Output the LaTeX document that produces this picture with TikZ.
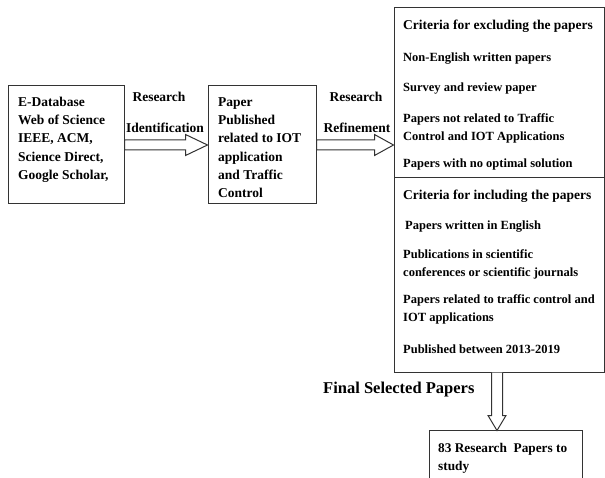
\documentclass[tikz,border=0pt]{standalone}
\usepackage{fontspec}
\setmainfont{Liberation Serif}
\usetikzlibrary{calc}
\begin{document}
\begin{tikzpicture}[x=1pt,y=-1pt]
  \useasboundingbox (0,0) rectangle (605,478);
  \clip (0,0) rectangle (605,478);

  \tikzset{
    hollow/.style={draw=black!80, fill=white, line width=1pt},
    bigtxt/.style={inner sep=0pt, align=left, font=\fontsize{13.5}{18.3}\selectfont\bfseries},
    crithead/.style={inner sep=0pt, anchor=base west, font=\fontsize{13.5}{16}\selectfont\bfseries},
    critem/.style={inner sep=0pt, anchor=base west, align=left, font=\fontsize{12.5}{18}\selectfont\bfseries}
  }

  % boxes
  \begin{scope}[every node/.style={rectangle, draw=black!80, line width=1pt, inner sep=0pt}]
    \node (dbase) [minimum width=116pt, minimum height=118pt] at (66,145) {};
    \node (pub) [minimum width=108pt, minimum height=118pt] at (262,145) {};
    \node (excl) [minimum width=210pt, minimum height=170pt] at (499,93) {};
    \node (incl) [minimum width=210pt, minimum height=194pt] at (499,275) {};
    \node (study) [minimum width=153pt, minimum height=60pt] at (505.5,460) {};
  \end{scope}

  % texts in the boxes
  \node (dbasetxt) [bigtxt, anchor=north west] at (18,93.2) {\strut E-Database\\Web of Science\\IEEE, ACM,\\Science Direct,\\Google Scholar,};
  \node (pubtxt) [bigtxt, anchor=north west] at (218,93.2) {\strut Paper\\Published\\related to IOT\\application\\and Traffic\\Control};
  \node (studytxt) [bigtxt, anchor=north west, font=\fontsize{13.3}{18}\selectfont\bfseries] at (438,439.4) {\strut 83 Research\ \ Papers to\\study};

  \node (ex0) [crithead] at (403,30) {Criteria for excluding the papers};
  \node (ex1) [critem] at (403,62) {Non-English written papers};
  \node (ex2) [critem] at (403,92) {Survey and review paper};
  \node (ex3) [critem, anchor=north west] at (403,109.4) {\strut Papers not related to Traffic\\Control and IOT Applications};
  \node (ex4) [critem] at (403,168) {Papers with no optimal solution};

  \node (in0) [crithead] at (403,200) {Criteria for including the papers};
  \node (in1) [critem] at (405,230) {Papers written in English};
  \node (in2) [critem, anchor=north west] at (403,245.4) {\strut Publications in scientific\\conferences or scientific journals};
  \node (in3) [critem, anchor=north west] at (403,290.4) {\strut Papers related to traffic control and\\IOT applications};
  \node (in4) [critem] at (403,353) {Published between 2013-2019};

  % arrow labels
  \node (res1) [bigtxt, anchor=base] at (159,102) {Research};
  \node (ident) [bigtxt, anchor=base] at (165,133) {Identification};
  \node (res2) [bigtxt, anchor=base] at (356,102) {Research};
  \node (refine) [bigtxt, anchor=base] at (357,133) {Refinement};
  \node (final) [inner sep=0pt, anchor=base west, font=\fontsize{16.5}{20}\selectfont\bfseries] at (323,393) {Final Selected Papers};

  % hollow arrows
  \draw[hollow] ($(dbase.east)+(0,-5)$) -- ($(pub.west)+(-22,-5)$) -- ($(pub.west)+(-22,-10.5)$)
    -- (pub.west) -- ($(pub.west)+(-22,10.5)$) -- ($(pub.west)+(-22,5)$) -- ($(dbase.east)+(0,5)$) -- cycle;
  \draw[hollow] ($(pub.east)+(0,-5)$) -- ($(excl.west |- pub.east)+(-19,-5)$) -- ($(excl.west |- pub.east)+(-19,-10.5)$)
    -- (excl.west |- pub.east) -- ($(excl.west |- pub.east)+(-19,10.5)$) -- ($(excl.west |- pub.east)+(-19,5)$) -- ($(pub.east)+(0,5)$) -- cycle;
  \draw[hollow] ($(incl.south)+(-7.5,0)$) -- ++(0,43) -- ++(-3.5,0) -- ($(incl.south -| study.north)+(-8.5,58)$)
    -- ++(9,-15) -- ++(-3.5,0) -- ($(incl.south)+(3.5,0)$);
\end{tikzpicture}
\end{document}
